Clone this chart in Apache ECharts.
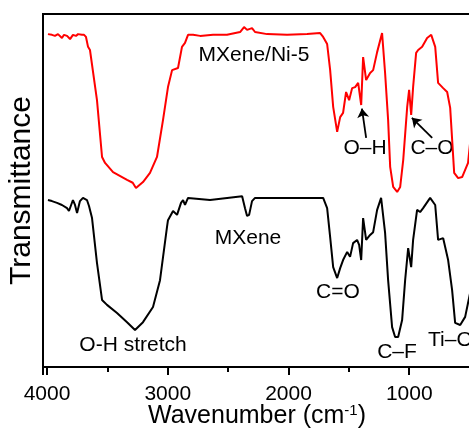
<!DOCTYPE html>
<html>
<head>
<meta charset="utf-8">
<script src="https://cdn.jsdelivr.net/npm/echarts@6/dist/echarts.min.js"></script>
<style>
  html, body { margin: 0; padding: 0; background: #fff; }
  #main { width: 469px; height: 429px; }
</style>
</head>
<body>
<div id="main"></div>
<script>
// wavenumber (cm-1) and transmittance (a.u.)
var niWave = [3992, 3959, 3934, 3909, 3876, 3859, 3834, 3809, 3785, 3760, 3743, 3710, 3693, 3677, 3660, 3644,
  3586, 3544, 3519, 3453, 3337, 3290, 3263, 3205, 3147, 3089, 3039, 2998, 2964, 2915, 2882, 2857, 2832,
  2790, 2732, 2625, 2509, 2401, 2368, 2343, 2302, 2277, 2177, 2012, 1846, 1738, 1713, 1680, 1655, 1630,
  1597, 1572, 1548, 1523, 1498, 1473, 1448, 1423, 1398, 1382, 1357, 1324, 1299, 1266, 1225, 1200, 1175,
  1158, 1133, 1100, 1075, 1050, 1017, 1001, 984, 968, 943, 926, 893, 852, 818, 785, 761, 719, 686, 661,
  628, 595, 562, 513, 496, 470];
var niT = [94.3, 94.1, 93.8, 94.3, 93.2, 94.1, 93.8, 92.9, 94.1, 93.8, 94.3, 94.1, 94.1, 93.5, 90.7, 89.8,
  75.6, 59.5, 57.8, 55.2, 53.0, 52.2, 50.7, 52.4, 55.0, 59.5, 70.0, 79.3, 84.1, 84.7, 90.7, 91.8, 94.1,
  94.1, 93.8, 94.1, 94.1, 94.9, 96.3, 95.5, 96.0, 94.9, 94.3, 94.1, 94.3, 94.6, 93.5, 91.5, 84.1, 73.7,
  66.6, 70.8, 72.0, 77.9, 75.6, 79.0, 79.3, 80.5, 74.2, 87.8, 81.3, 83.3, 84.1, 89.2, 94.6, 83.3, 70.0,
  56.7, 51.0, 49.6, 51.0, 58.6, 73.7, 78.5, 71.4, 79.3, 89.0, 89.8, 90.7, 93.2, 94.1, 90.7, 80.5, 79.0,
  77.9, 73.4, 55.0, 53.5, 53.8, 57.8, 63.5, 70.0];

var mxWave = [3992, 3959, 3917, 3876, 3834, 3818, 3785, 3768, 3751, 3727, 3702, 3669, 3652, 3627, 3586,
  3544, 3503, 3420, 3337, 3271, 3205, 3122, 3064, 3006, 2998, 2956, 2923, 2890, 2873, 2857, 2832, 2650,
  2384, 2360, 2343, 2326, 2302, 2277, 1962, 1713, 1680, 1655, 1630, 1597, 1572, 1548, 1514, 1490, 1465,
  1432, 1415, 1398, 1382, 1357, 1324, 1299, 1266, 1233, 1200, 1175, 1142, 1117, 1092, 1059, 1034, 1009,
  984, 968, 935, 910, 885, 827, 785, 761, 719, 678, 645, 620, 578, 537, 496, 470];
var mxT = [47.3, 47.0, 46.5, 45.9, 45.0, 44.2, 47.3, 45.9, 43.6, 47.0, 47.9, 47.3, 45.6, 42.2, 29.5,
  19.0, 17.6, 15.3, 12.7, 10.5, 12.7, 17.0, 24.6, 39.7, 41.6, 44.2, 43.1, 46.5, 47.3, 45.9, 47.9, 47.3,
  48.4, 45.0, 42.8, 43.1, 47.0, 47.9, 47.9, 47.9, 45.0, 36.8, 28.3, 25.2, 28.0, 30.3, 32.6, 31.2, 35.1,
  36.0, 34.6, 30.3, 42.2, 36.0, 37.4, 38.2, 44.5, 47.9, 38.0, 24.6, 11.3, 8.5, 8.5, 13.3, 24.6, 33.7,
  28.3, 36.0, 44.5, 43.9, 45.0, 47.9, 45.9, 36.0, 36.5, 30.3, 21.8, 12.5, 11.9, 14.2, 21.0, 27.0];

var tickLabels = [4000, 3000, 2000, 1000];

function zip(a, b) {
  return a.map(function (v, i) { return [v, b[i]]; });
}

var FONT = '"Liberation Sans", Arial, sans-serif';
var dom = document.getElementById('main');
var myChart = echarts.init(dom, null, { renderer: 'canvas' });

function txt(text, x, y, size, align) {
  return {
    type: 'text',
    x: x,
    y: y,
    style: {
      text: text,
      fill: '#000',
      fontSize: size,
      fontFamily: FONT,
      textAlign: align || 'center',
      textVerticalAlign: 'middle',
      align: align || 'center',
      verticalAlign: 'middle'
    }
  };
}

var option = {
  animation: false,
  grid: {
    left: 43,
    top: 14,
    width: 487,
    bottom: 62,
    outerBoundsMode: 'none',
    containLabel: false,
    show: true,
    borderColor: '#000',
    borderWidth: 2
  },
  xAxis: {
    type: 'value',
    inverse: true,
    min: 0,
    max: 4033,
    interval: 1000,
    axisLine: { lineStyle: { color: '#000', width: 2 } },
    axisTick: { inside: false, length: 8, lineStyle: { color: '#000', width: 2 } },
    minorTick: { show: true, splitNumber: 2, length: 5, lineStyle: { color: '#000', width: 2 } },
    splitLine: { show: false },
    axisLabel: {
      color: '#000',
      fontSize: 21,
      fontFamily: FONT,
      margin: 17,
      showMaxLabel: false,
      formatter: function (v) {
        return tickLabels.indexOf(v) >= 0 ? String(v) : '';
      }
    }
  },
  yAxis: {
    type: 'value',
    min: 0,
    max: 100,
    name: 'Transmittance',
    nameLocation: 'middle',
    nameGap: 6,
    nameTextStyle: { color: '#000', fontSize: 30, fontFamily: FONT },
    axisLine: { show: true, lineStyle: { color: '#000', width: 2 } },
    axisTick: { show: false },
    axisLabel: { show: false },
    splitLine: { show: false }
  },
  series: [
    {
      name: 'MXene/Ni-5',
      type: 'line',
      data: zip(niWave, niT),
      showSymbol: false,
      lineStyle: { color: '#ff0000', width: 2 },
      itemStyle: { color: '#ff0000' },
      markLine: {
        silent: true,
        symbol: ['none', 'arrow'],
        symbolSize: 9,
        label: { show: false },
        lineStyle: { color: '#000', width: 1.8, type: 'solid' },
        data: [
          [{ coord: [1357, 64.9] }, { coord: [1392, 73.2] }],
          [{ coord: [810, 64.9] }, { coord: [978, 70.6] }]
        ]
      }
    },
    {
      name: 'MXene',
      type: 'line',
      data: zip(mxWave, mxT),
      showSymbol: false,
      lineStyle: { color: '#000', width: 2 },
      itemStyle: { color: '#000' }
    }
  ],
  graphic: [
    txt('MXene/Ni-5', 254, 55, 21),
    txt('MXene', 248, 238, 21),
    txt('O-H stretch', 133, 345, 21),
    txt('C=O', 338, 292, 21),
    txt('C\u2013F', 397, 352, 21),
    txt('O\u2013H', 365, 148, 21),
    txt('C\u2013O', 432, 148, 21),
    txt('Ti\u2013O', 428, 340, 21, 'left'),
    {
      type: 'text',
      x: 257,
      y: 416,
      style: {
        text: 'Wavenumber (cm{sup|-1})',
        fill: '#000',
        fontSize: 25,
        fontFamily: FONT,
        textAlign: 'center',
        textVerticalAlign: 'middle',
        align: 'center',
        verticalAlign: 'middle',
        rich: {
          sup: { fontSize: 15, fontFamily: FONT, fill: '#000', verticalAlign: 'top', lineHeight: 15 }
        }
      }
    }
  ]
};

if (option && typeof option === 'object') {
  myChart.setOption(option);
}
window.addEventListener('resize', myChart.resize);
</script>
</body>
</html>
